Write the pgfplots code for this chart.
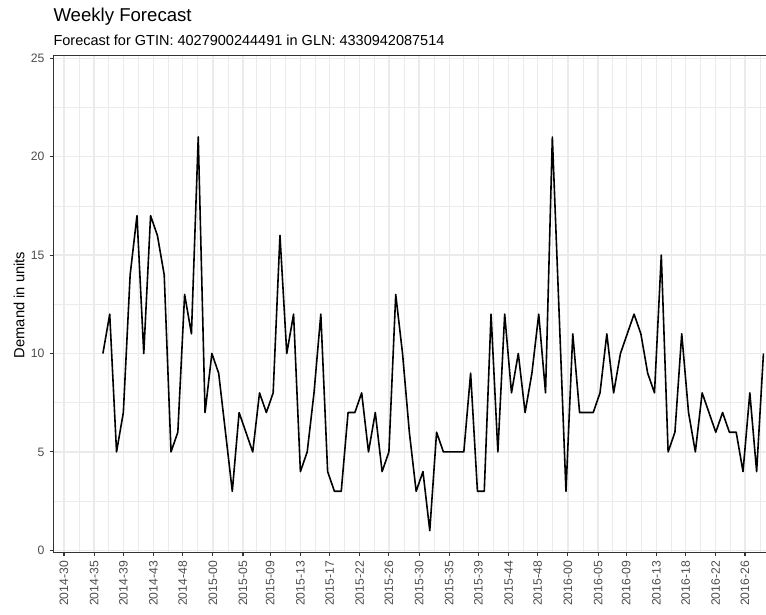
\documentclass[border=0pt]{standalone}
\usepackage{fontspec}
\setmainfont{Liberation Sans}
\usepackage{pgfplots}
\pgfplotsset{compat=1.18}
\definecolor{gthirty}{HTML}{4D4D4D}
\definecolor{gtwenty}{HTML}{333333}
\definecolor{gnine}{HTML}{EBEBEB}
\pgfplotstableread{
day value
40 10
47 12
54 5
61 7
68 14
75 17
82 10
89 17
96 16
103 14
110 5
117 6
124 13
131 11
138 21
145 7
152 10
159 9
166 6
173 3
180 7
187 6
194 5
201 8
208 7
215 8
222 16
229 10
236 12
243 4
250 5
257 8
264 12
271 4
278 3
285 3
292 7
299 7
306 8
313 5
320 7
327 4
334 5
341 13
348 10
355 6
362 3
369 4
376 1
383 6
390 5
397 5
404 5
411 5
418 9
425 3
432 3
439 12
446 5
453 12
460 8
467 10
474 7
481 9
488 12
495 8
502 21
509 12
516 3
523 11
530 7
537 7
544 7
551 8
558 11
565 8
572 10
579 11
586 12
593 11
600 9
607 8
614 15
621 5
628 6
635 11
642 7
649 5
656 8
663 7
670 6
677 7
684 6
691 6
698 4
705 8
712 4
719 10
}\demand
\begin{document}
\begin{tikzpicture}
\useasboundingbox (0,0) rectangle (766pt,615pt);
\begin{axis}[
  at={(53.3pt,62.3pt)}, anchor=south west,
  scale only axis, width=715pt, height=497.2pt,
  xmin=-11, xmax=724, ymin=-0.12, ymax=25.14,
  xtick={0,31,61,92,122,153,184,212,243,273,304,334,365,396,426,457,487,518,549,578,609,639,670,700},
  xticklabels={2014-30,2014-35,2014-39,2014-43,2014-48,2015-00,2015-05,2015-09,2015-13,2015-17,2015-22,2015-26,2015-30,2015-35,2015-39,2015-44,2015-48,2016-00,2016-05,2016-09,2016-13,2016-18,2016-22,2016-26},
  minor xtick={15.5,46,76.5,107,137.5,168.5,198,227.5,258,288.5,319,349.5,380.5,411,441.5,472,502.5,533.5,563.5,593.5,624,654.5,685,715.5},
  ytick={0,5,10,15,20,25},
  minor ytick={2.5,7.5,12.5,17.5,22.5},
  grid=both,
  major grid style={gnine, line width=1.4pt},
  minor grid style={gnine, line width=0.7pt},
  tick align=outside, major tick length=3.7pt, minor tick length=0pt,
  xtick pos=bottom, ytick pos=left,
  tick style={gtwenty, line width=1.1pt},
  axis line style={gtwenty, line width=1.1pt},
  /pgf/number format/assume math mode=true,
  tick label style={font=\fontsize{12.2}{14}\selectfont, text=gthirty},
  xticklabel style={rotate=90, anchor=east, inner sep=0pt},
  yticklabel style={anchor=east, inner sep=0pt},
  xticklabel shift=4.5pt, yticklabel shift=5pt,
]
\addplot[black, line width=1.6pt, line join=round] table[x=day, y=value] {\demand};
\end{axis}
\node[anchor=base west, inner sep=0pt, font=\fontsize{18.6}{22}\selectfont] at (53.3pt,593.3pt) {Weekly Forecast};
\node[anchor=base west, inner sep=0pt, font=\fontsize{14.5}{17}\selectfont] at (53.3pt,569pt) {Forecast for GTIN: 4027900244491 in GLN: 4330942087514};
\node[rotate=90, anchor=base, inner sep=0pt, font=\fontsize{14.7}{17}\selectfont] at (24.5pt,310pt) {Demand in units};
\end{tikzpicture}
\end{document}
